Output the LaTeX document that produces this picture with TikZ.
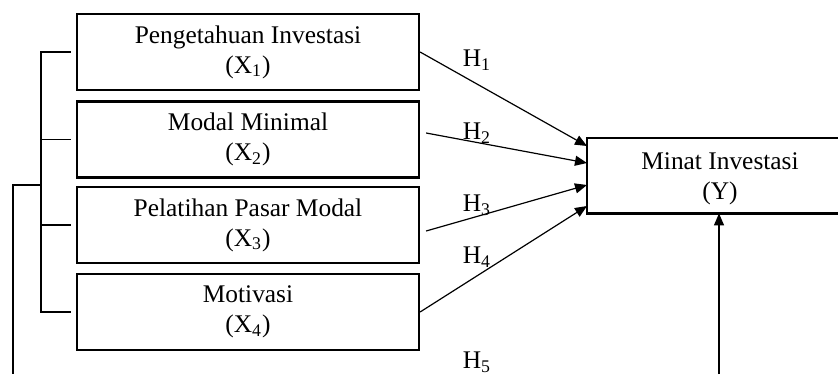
\documentclass[tikz,border=0pt]{standalone}
\usepackage{fontspec}
\setmainfont{Liberation Serif}
\usetikzlibrary{arrows.meta}
\begin{document}
\begin{tikzpicture}[x=0.5pt,y=-0.5pt,
  varbox/.style={draw,line width=1.1pt,minimum width=171pt,minimum height=38pt,inner sep=0pt,align=center,font=\fontsize{12.7}{15}\selectfont},
  conn/.style={line width=0.6pt},
  arr/.style={conn,-{Triangle[length=6pt,width=5pt]}},
  hlab/.style={font=\fontsize{12.7}{15}\selectfont,inner sep=0pt}]
\useasboundingbox (0,0) rectangle (838,374);
\node[varbox] (x1) at (248,52) {Pengetahuan Investasi\\(X\textsubscript{1})};
\node[varbox] (x2) at (248,139.5) {Modal Minimal\\(X\textsubscript{2})};
\node[varbox] (x3) at (248,225) {Pelatihan Pasar Modal\\(X\textsubscript{3})};
\node[varbox] (x4) at (248,312) {Motivasi\\(X\textsubscript{4})};
% Y box (cut off at the right edge of the picture)
\node[minimum width=125pt,minimum height=37.5pt,inner sep=0pt,anchor=west] (y) at (587,175.5) {};
\coordinate (re) at (838,0);
\draw[line width=1.1pt] (re |- y.north) -- (y.north west) -- (y.south west) -- (re |- y.south);
\node[font=\fontsize{12.7}{15}\selectfont,align=center,inner sep=0pt] (yt) at (720,179) {Minat Investasi\\(Y)};
% arrows into Y
\draw[arr] (x1.east) -- ([yshift=14.75pt]y.west);
\draw[arr] ([xshift=3pt,yshift=3.25pt]x2.east) -- ([yshift=6.25pt]y.west);
\draw[arr] ([xshift=3pt,yshift=-3pt]x3.east) -- ([yshift=-4.75pt]y.west);
\draw[arr] (x4.east) -- ([yshift=-15.25pt]y.west);
% labels
\node[hlab] (h1) at (477,60) {H\textsubscript{1}};
\node[hlab] (h2) at (477,133) {H\textsubscript{2}};
\node[hlab] (h3) at (477,205) {H\textsubscript{3}};
\node[hlab] (h4) at (477,257) {H\textsubscript{4}};
\node[hlab] (h5) at (477,362) {H\textsubscript{5}};
% bracket
\draw[conn] ([xshift=-2.5pt]x1.west) -- (41,52) -- (41,312) -- ([xshift=-2.5pt]x4.west);
\draw[conn] ([xshift=-2.5pt]x2.west) -- (41,139.5);
\draw[conn] ([xshift=-2.5pt]x3.west) -- (41,225);
\coordinate (j) at (41,185);
\coordinate (bl) at (13,374);
\coordinate (br) at (719,374);
\draw[conn] (j) -- (13,185) -- (bl);
\draw[arr] (br) -- (br |- y.south);
\end{tikzpicture}
\end{document}
